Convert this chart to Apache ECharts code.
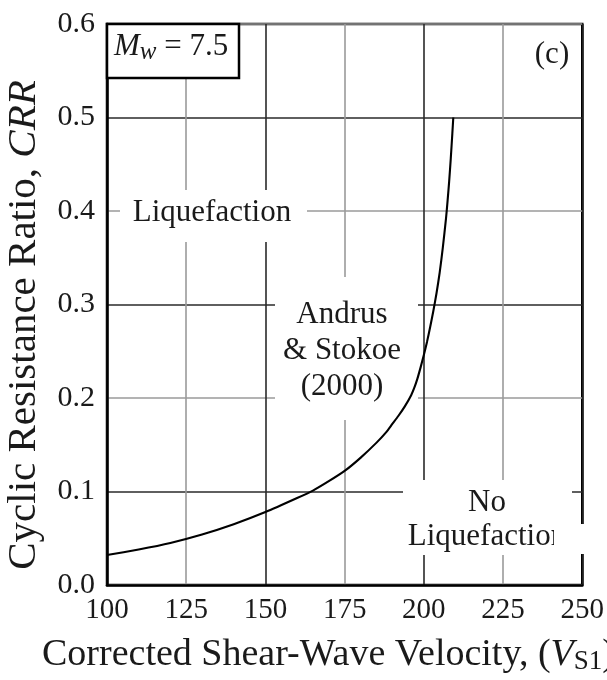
<!DOCTYPE html>
<html>
<head>
<meta charset="utf-8">
<script src="https://cdn.jsdelivr.net/npm/echarts@6/dist/echarts.min.js"></script>
<style>
  html, body { margin: 0; padding: 0; background: #fff; }
  #chart { width: 607px; height: 680px; }
</style>
</head>
<body>
<div id="chart"></div>
<script>
// Andrus & Stokoe (2000) boundary curve, Mw = 7.5
const vs1Values = [100, 110, 120, 130, 140, 150, 160, 165, 170, 175, 180, 185, 188, 190, 192, 194, 196, 197, 198, 199,
  200, 201, 202, 203, 204, 205, 206, 207, 207.5, 208, 208.5, 209, 209.3];
const crrValues = [0.032, 0.038, 0.045, 0.054, 0.065, 0.078, 0.093, 0.101, 0.111, 0.122, 0.136, 0.152, 0.163, 0.172, 0.181, 0.191, 0.203, 0.211, 0.221, 0.233,
  0.246, 0.260, 0.276, 0.293, 0.312, 0.334, 0.361, 0.392, 0.411, 0.432, 0.456, 0.483, 0.500];

const xAxisRange = [100, 250, 25];
const yAxisRange = [0, 0.6, 0.1];

const SERIF = '"Liberation Serif", "Times New Roman", serif';
const INK = '#1a1a1a';

const curve = vs1Values.map((v, i) => [v, crrValues[i]]);

const chart = echarts.init(document.getElementById('chart'), null, { renderer: 'canvas' });

chart.setOption({
  animation: false,
  backgroundColor: '#fff',
  grid: {
    left: 107, right: 18, top: 24, bottom: 95,
    show: true, borderColor: '#000', borderWidth: 2.5, backgroundColor: 'transparent'
  },
  xAxis: {
    type: 'value',
    min: xAxisRange[0], max: xAxisRange[1], interval: xAxisRange[2],
    axisLine: { show: true, lineStyle: { color: '#000', width: 2.5 } },
    axisTick: { show: false },
    axisLabel: { color: INK, fontFamily: SERIF, fontSize: 29, margin: 11 },
    splitLine: { show: true, lineStyle: { color: ['#2a2a2a', '#9a9a9a'], width: 1.6 } }
  },
  yAxis: {
    type: 'value',
    min: yAxisRange[0], max: yAxisRange[1], interval: yAxisRange[2],
    axisLine: { show: true, lineStyle: { color: '#000', width: 2.5 } },
    axisTick: { show: false },
    axisLabel: {
      color: INK, fontFamily: SERIF, fontSize: 30, margin: 12,
      formatter: v => v.toFixed(1)
    },
    splitLine: { show: true, lineStyle: { color: ['#9a9a9a', '#2a2a2a'], width: 1.6 } }
  },
  series: [{
    type: 'line',
    data: curve,
    z: 5,
    showSymbol: false,
    smooth: 0.2,
    lineStyle: { color: '#000', width: 2.1, join: 'round' },
    clip: false
  }],
  graphic: [
    // magnitude box, top-left corner
    {
      type: 'rect', z: 1,
      shape: { x: 107, y: 24, width: 132, height: 54 },
      style: { fill: '#fff', stroke: '#000', lineWidth: 2.5 }
    },
    {
      type: 'text', z: 2, left: 114, top: 31,
      style: {
        text: '{m|M}{w|w}{n| = 7.5}',
        fill: INK,
        rich: {
          m: { fontFamily: SERIF, fontSize: 31, fontStyle: 'italic', fill: INK },
          w: { fontFamily: SERIF, fontSize: 25, fontStyle: 'italic', fill: INK, padding: [12, 0, 0, 0] },
          n: { fontFamily: SERIF, fontSize: 31, fill: INK }
        }
      }
    },
    {
      type: 'text', z: 2, x: 552, y: 55,
      style: { text: '(c)', font: '31px ' + SERIF, fill: INK, align: 'center', verticalAlign: 'middle' }
    },
    // region labels
    {
      type: 'rect', z: 1,
      shape: { x: 120, y: 190, width: 187, height: 52 },
      style: { fill: '#fff' }
    },
    {
      type: 'text', z: 2, x: 212, y: 213,
      style: { text: 'Liquefaction', font: '31px ' + SERIF, fill: INK, align: 'center', verticalAlign: 'middle' }
    },
    {
      type: 'rect', z: 1,
      shape: { x: 275, y: 277, width: 143, height: 143 },
      style: { fill: '#fff' }
    },
    {
      type: 'text', z: 2, x: 342, y: 351,
      style: {
        text: 'Andrus\n& Stokoe\n(2000)', font: '31px ' + SERIF, fill: INK,
        align: 'center', verticalAlign: 'middle', lineHeight: 36
      }
    },
    {
      type: 'rect', z: 1,
      shape: { x: 403, y: 480, width: 169, height: 75 },
      style: { fill: '#fff' }
    },
    {
      type: 'rect', z: 1,
      shape: { x: 584, y: 528, width: 10, height: 25 },
      style: { fill: '#fff' }
    },
    {
      type: 'text', z: 2, x: 487, y: 520,
      style: {
        text: 'No\nLiquefaction', font: '31px ' + SERIF, fill: INK,
        align: 'center', verticalAlign: 'middle', lineHeight: 34
      }
    },
    {
      type: 'rect', z: 3,
      shape: { x: 554, y: 524, width: 30, height: 30 },
      style: { fill: '#fff' }
    },
    // axis titles
    {
      type: 'text', z: 2, left: 42, top: 636,
      style: {
        text: '{a|Corrected Shear-Wave Velocity, (}{v|V}{s|S1}{a|)}',
        fill: INK,
        rich: {
          a: { fontFamily: SERIF, fontSize: 38, fill: INK },
          v: { fontFamily: SERIF, fontSize: 38, fontStyle: 'italic', fill: INK },
          s: { fontFamily: SERIF, fontSize: 27, fill: INK, padding: [14, 0, 0, 0] }
        }
      }
    },
    {
      type: 'text', z: 2, x: 24, y: 325, rotation: Math.PI / 2,
      style: {
        text: '{a|Cyclic Resistance Ratio, }{i|CRR}',
        align: 'center', verticalAlign: 'middle',
        fill: INK,
        rich: {
          a: { fontFamily: SERIF, fontSize: 41, fill: INK },
          i: { fontFamily: SERIF, fontSize: 41, fontStyle: 'italic', fill: INK }
        }
      }
    }
  ]
});
</script>
</body>
</html>
